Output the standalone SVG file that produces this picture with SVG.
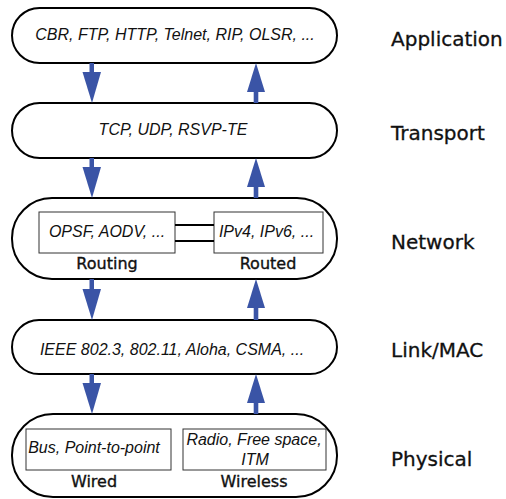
<svg xmlns="http://www.w3.org/2000/svg" width="506" height="499" viewBox="0 0 506 499">
  <style>
    .layer { fill: #fff; stroke: #000; stroke-width: 2; }
    .inner { fill: #fff; stroke: #333; stroke-width: 1; }
    .proto { font-family: "Liberation Sans", Arial, sans-serif; font-style: italic; font-size: 16px; fill: #111; text-anchor: middle; }
    .sub { font-family: "DejaVu Sans", sans-serif; font-size: 16px; fill: #111; stroke: #111; stroke-width: 0.35; text-anchor: middle; }
    .name { font-family: "DejaVu Sans", sans-serif; font-size: 20px; fill: #111; stroke: #111; stroke-width: 0.3; }
    .arrow { fill: #3a54a6; }
    .link2 { stroke: #000; stroke-width: 2.2; }
  </style>
  <rect width="506" height="499" fill="#fff"/>

  <g id="application">
    <rect class="layer" x="12" y="8" width="325" height="55" rx="27.5"/>
    <text class="proto" x="175" y="40">CBR, FTP, HTTP, Telnet, RIP, OLSR, ...</text>
    <text class="name" x="391" y="46">Application</text>
  </g>

  <g id="transport">
    <rect class="layer" x="12" y="103" width="325" height="55" rx="27.5"/>
    <text class="proto" x="173" y="135">TCP, UDP, RSVP-TE</text>
    <text class="name" x="391" y="140">Transport</text>
  </g>

  <g id="network">
    <rect class="layer" x="12" y="198" width="325" height="81" rx="40"/>
    <g id="routing">
      <rect class="inner" x="39" y="212" width="136" height="41"/>
      <text class="proto" x="107" y="237">OPSF, AODV, ...</text>
      <text class="sub" x="107" y="269">Routing</text>
    </g>
    <g id="routed">
      <rect class="inner" x="214" y="212" width="109" height="41"/>
      <text class="proto" x="266.5" y="237">IPv4, IPv6, ...</text>
      <text class="sub" x="268" y="269">Routed</text>
    </g>
    <text class="name" x="391" y="249">Network</text>
  </g>

  <g id="linkmac">
    <rect class="layer" x="12" y="320" width="325" height="54" rx="27"/>
    <text class="proto" x="172" y="355">IEEE 802.3, 802.11, Aloha, CSMA, ...</text>
    <text class="name" x="391" y="357">Link/MAC</text>
  </g>

  <g id="physical">
    <rect class="layer" x="12" y="414" width="325" height="83" rx="41"/>
    <g id="wired">
      <rect class="inner" x="26" y="429" width="145" height="41"/>
      <text class="proto" x="94" y="453">Bus, Point-to-point</text>
      <text class="sub" x="94" y="487">Wired</text>
    </g>
    <g id="wireless">
      <rect class="inner" x="183" y="429" width="143" height="41"/>
      <text class="proto" x="254" y="445">Radio, Free space,</text>
      <text class="proto" x="255" y="465">ITM</text>
      <text class="sub" x="254" y="487">Wireless</text>
    </g>
    <text class="name" x="391" y="466">Physical</text>
  </g>

  <g id="connectors">
    <line class="link2" x1="175" y1="225" x2="214" y2="225"/>
    <line class="link2" x1="175" y1="241" x2="214" y2="241"/>

    <!-- down arrows -->
    <rect class="arrow" x="89.5" y="63" width="4.5" height="10"/>
    <polygon class="arrow" points="82.5,72 101,72 92,103"/>
    <rect class="arrow" x="89.5" y="158" width="4.5" height="10"/>
    <polygon class="arrow" points="82.5,167 101,167 92,198"/>
    <rect class="arrow" x="89.5" y="279" width="4.5" height="10"/>
    <polygon class="arrow" points="82.5,289 101,289 92,320"/>
    <rect class="arrow" x="89.5" y="374" width="4.5" height="10"/>
    <polygon class="arrow" points="82.5,383 101,383 92,414"/>

    <!-- up arrows -->
    <polygon class="arrow" points="256,63 247,92 265,92"/>
    <rect class="arrow" x="253.7" y="91" width="4.6" height="12"/>
    <polygon class="arrow" points="256,158 247,187 265,187"/>
    <rect class="arrow" x="253.7" y="186" width="4.6" height="12"/>
    <polygon class="arrow" points="256,279 247,308 265,308"/>
    <rect class="arrow" x="253.7" y="307" width="4.6" height="13"/>
    <polygon class="arrow" points="256,374 247,403 265,403"/>
    <rect class="arrow" x="253.7" y="402" width="4.6" height="12"/>
  </g>
</svg>
